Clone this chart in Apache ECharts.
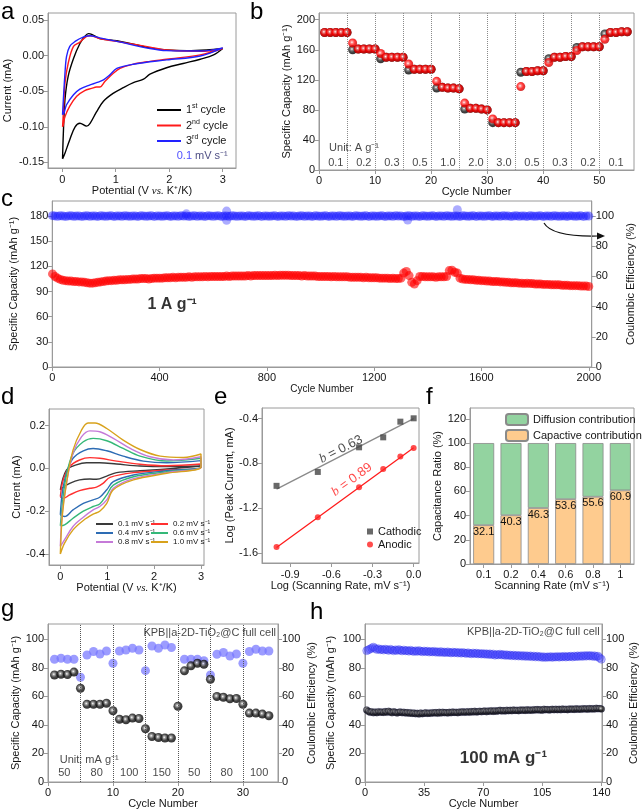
<!DOCTYPE html>
<html><head><meta charset="utf-8">
<script src="https://cdn.jsdelivr.net/npm/echarts@6/dist/echarts.min.js"></script>
<style>html,body{margin:0;padding:0;background:#fff}#c{width:644px;height:812px}</style>
</head><body><div id="c"></div>
<script>
// ---------------- DATA ----------------
// (a) CV curves, first three cycles at 0.1 mV/s  [V, mA]
const aCycle1 = [[0.005,-0.145],[0.02,-0.109],[0.05,-0.062],[0.11,-0.029],[0.21,-0.004],[0.33,0.017],[0.42,0.027],[0.49,0.031],[0.55,0.030],[0.70,0.024],[1.02,0.021],[1.33,0.016],[1.64,0.011],[1.95,0.008],[2.33,0.007],[2.70,0.008],[3.0,0.010],[2.83,0.001],[2.58,-0.005],[2.26,-0.011],[1.95,-0.017],[1.64,-0.026],[1.52,-0.033],[1.33,-0.038],[1.14,-0.045],[0.95,-0.053],[0.77,-0.064],[0.64,-0.079],[0.52,-0.095],[0.455,-0.099],[0.33,-0.095],[0.24,-0.100],[0.14,-0.118],[0.05,-0.137],[0.005,-0.145]];
const aCycle2 = [[0.005,-0.100],[0.02,-0.081],[0.05,-0.039],[0.11,-0.011],[0.21,0.013],[0.33,0.019],[0.455,0.027],[0.52,0.028],[0.70,0.024],[1.02,0.020],[1.33,0.016],[1.64,0.012],[1.95,0.008],[2.58,0.006],[3.0,0.010],[2.58,0.001],[1.95,-0.005],[1.64,-0.008],[1.33,-0.012],[1.08,-0.018],[0.95,-0.025],[0.80,-0.036],[0.70,-0.044],[0.64,-0.044],[0.55,-0.046],[0.42,-0.049],[0.27,-0.057],[0.14,-0.071],[0.05,-0.086],[0.02,-0.097],[0.005,-0.100]];
const aCycle3 = [[0.005,-0.083],[0.02,-0.062],[0.05,-0.025],[0.08,-0.001],[0.14,0.013],[0.24,0.020],[0.39,0.026],[0.52,0.028],[0.70,0.025],[1.02,0.020],[1.64,0.010],[1.95,0.007],[2.58,0.0065],[3.0,0.011],[2.58,-0.0005],[1.95,-0.006],[1.33,-0.012],[1.02,-0.018],[0.89,-0.027],[0.77,-0.034],[0.64,-0.038],[0.52,-0.041],[0.33,-0.047],[0.21,-0.055],[0.08,-0.069],[0.03,-0.081],[0.005,-0.083]];
const aLegendNames = ['1st cycle','2nd cycle','3rd cycle'];

// (b) rate performance
const bCycles = [1,2,3,4,5,6,7,8,9,10,11,12,13,14,15,16,17,18,19,20,21,22,23,24,25,26,27,28,29,30,31,32,33,34,35,36,37,38,39,40,41,42,43,44,45,46,47,48,49,50,51,52,53,54,55];
const bCharge = [183,183,183,183,183, 160,161,161,161,161, 148,150,150,150,150, 133,134,134,134,134, 109,110,109,109,108, 81,82,82,81,80, 63,63,63,63,63, 130,131,131,132,132, 148,150,150,151,151, 163,164,164,164,164, 181,183,183,184,184];
const bDischarge = [183,183,183,183,183, 169,161,161,161,161, 155,150,150,150,150, 141,134,134,134,134, 118,110,109,109,108, 89,82,82,81,80, 68,63,63,63,63, 111,131,131,132,132, 143,150,150,151,151, 159,164,164,164,164, 174,183,183,184,184];
const bDividers = [5,10,15,20,25,30,35,40,45,50];
const bRateLabels = ['0.1','0.2','0.3','0.5','1.0','2.0','3.0','0.5','0.3','0.2','0.1'];
const bRateLabelX = [3,8,13,18,23,28,33,38,43,48,53];

// (c) long cycling at 1 A/g, every 10th cycle
const cStep = 10;
const cCapacity = [
111,108,106,104.5,103.5,103,102.5,102.5,102,102,
101.5,101.5,101,100.5,100,100,100.5,101,101.5,102,
102.5,103,103,103.5,103.5,104,104,104,104.5,104.5,
105,105,105,105.5,105.5,105.5,105,105.5,106,106,
106,106,106.5,106.5,106.5,107,106.5,107,107,107,
107,107.5,107,107.5,107.5,107.5,107.5,108,107.5,108,
108,108,108,108,108,108.5,108,108.5,108.5,108.5,
108.5,108.5,108.5,109,108.5,109,109,109,109,109,
109,109,109,109.5,109,109.5,109.5,109.5,109.5,109,
109,109,109,108.5,109,108.5,108.5,108.5,108.5,108,
108,108,108,108,107.5,108,107.5,107.5,107.5,107.5,
107.5,107,107,107,107,107,106.5,107,106.5,106.5,
106.5,106.5,106,106,106,106,105.5,106,105.5,105.5,
106,112,114,109,101,99,103,108,108,107.5,
107.5,107.5,107.5,107,107.5,107.5,107.5,108,115,115.5,
113,112,106,105,104.5,104.5,104,104,103.5,103.5,
103,103,102.5,102.5,102,102,102,101.5,101.5,101,
101,100.5,100.5,100.5,100,100,99.5,100,99.5,99.5,
99,99,99,98.5,98.5,98.5,98,98,98,98,
97.5,97.5,97.5,97,97,97,97,96.5,96.5,96.5,
96];
const cEfficiency = [
100.3,100.1,99.9,100.2,100,99.8,100.1,100.2,99.9,100,
100.1,99.8,100,100.2,99.9,100.1,100,99.8,100.2,100,
99.9,100.1,100.2,99.8,100,100.1,99.9,100.2,100,99.9,
100.1,100,99.8,100.2,100.1,99.9,100,100.2,99.8,100.1,
100,99.9,100.1,100.2,99.8,100,100.1,99.9,100.2,100,
100.1,99.8,100,100.2,99.9,100.1,100,99.8,100.2,100.1,
99.9,100.1,100.2,99.8,100,100.1,99.9,100.2,100,99.9,
100.1,100,99.8,100.2,100.1,99.9,100,100.2,99.8,100.1,
100,99.9,100.1,100.2,99.8,100,100.1,99.9,100.2,100,
100.1,99.8,100,100.2,99.9,100.1,100,99.8,100.2,100,
99.9,100.1,100.2,99.8,100,100.1,99.9,100.2,100,99.9,
100.1,100,99.8,100.2,100.1,99.9,100,100.2,99.8,100.1,
100,99.9,100.1,100.2,99.8,100,100.1,99.9,100.2,100,
100.1,99.8,100,100.2,99.9,100.1,100,99.8,100.2,100,
99.9,100.1,100.2,99.8,100,100.1,99.9,100.2,100,99.9,
100.1,100,99.8,100.2,100.1,99.9,100,100.2,99.8,100.1,
100,99.9,100.1,100.2,99.8,100,100.1,99.9,100.2,100,
100.1,99.8,100,100.2,99.9,100.1,100,99.8,100.2,100,
99.9,100.1,100.2,99.8,100,100.1,99.9,100.2,100,99.9,
100.1,100,99.8,100.2,100.1,99.9,100,100.2,99.8,100.1,
100];
const cEfficiencyOutliers = [[500,101.5],[650,103.3],[650,97.2],[1325,97.4],[1510,104.2]];

// (d) CV at different scan rates [V, mA]
const dNames = ['0.1 mV s⁻¹','0.2 mV s⁻¹','0.4 mV s⁻¹','0.6 mV s⁻¹','0.8 mV s⁻¹','1.0 mV s⁻¹'];
const d01 = [[0,-0.10],[0.13,-0.008],[0.34,0.016],[0.56,0.026],[0.84,0.026],[1.2,0.02],[1.7,0.011],[2.27,0.008],[3.0,0.011],[3.0,0.008],[2.27,-0.003],[1.7,-0.011],[1.2,-0.02],[0.99,-0.036],[0.77,-0.051],[0.63,-0.05],[0.41,-0.054],[0.2,-0.07],[0.06,-0.088],[0,-0.10]];
const d02 = [[0,-0.132],[0.06,-0.054],[0.2,0.008],[0.41,0.039],[0.63,0.05],[0.84,0.047],[1.2,0.034],[1.7,0.019],[2.27,0.012],[3.0,0.02],[3.0,0.003],[2.27,-0.008],[1.56,-0.02],[1.06,-0.042],[0.91,-0.07],[0.77,-0.088],[0.63,-0.093],[0.41,-0.104],[0.2,-0.124],[0.06,-0.14],[0,-0.132]];
const d04 = [[0,-0.217],[0.04,-0.116],[0.13,-0.023],[0.27,0.047],[0.49,0.082],[0.7,0.093],[0.99,0.082],[1.34,0.057],[1.77,0.034],[2.27,0.026],[3.0,0.036],[3.0,0.008],[2.27,-0.011],[1.56,-0.031],[1.13,-0.062],[0.99,-0.1],[0.84,-0.135],[0.7,-0.147],[0.49,-0.163],[0.27,-0.194],[0.09,-0.225],[0,-0.217]];
const d06 = [[0,-0.268],[0.06,-0.132],[0.13,-0.031],[0.27,0.07],[0.49,0.124],[0.7,0.14],[0.99,0.129],[1.34,0.093],[1.7,0.057],[2.27,0.034],[3.0,0.047],[3.0,0.008],[2.27,-0.016],[1.56,-0.039],[1.13,-0.078],[0.99,-0.124],[0.84,-0.166],[0.7,-0.178],[0.49,-0.2],[0.27,-0.233],[0.09,-0.264],[0,-0.268]];
const d08 = [[0,-0.364],[0.04,-0.209],[0.13,-0.07],[0.27,0.07],[0.45,0.147],[0.63,0.175],[0.84,0.171],[1.13,0.14],[1.49,0.093],[1.91,0.054],[2.41,0.039],[3.0,0.054],[3.0,0.008],[2.27,-0.02],[1.56,-0.048],[1.13,-0.093],[0.99,-0.147],[0.84,-0.178],[0.7,-0.194],[0.49,-0.228],[0.27,-0.271],[0.09,-0.333],[0,-0.364]];
const d10 = [[0,-0.40],[0.04,-0.225],[0.13,-0.07],[0.27,0.085],[0.45,0.178],[0.59,0.212],[0.74,0.212],[0.99,0.186],[1.34,0.132],[1.7,0.088],[2.13,0.057],[2.63,0.051],[3.0,0.067],[3.0,0.008],[2.27,-0.023],[1.56,-0.054],[1.13,-0.1],[0.99,-0.163],[0.84,-0.2],[0.7,-0.214],[0.49,-0.243],[0.27,-0.287],[0.09,-0.349],[0,-0.40]];
const dCurves = [d01,d02,d04,d06,d08,d10];
const dColors = ['#3a3a3a','#ff3030','#2d6cb4','#35b878','#c57ad8','#d8a21c'];

// (e) log peak current vs log scan rate
const eLogRate = [-1, -0.699, -0.398, -0.222, -0.097, 0];
const eCathodic = [-1.0, -0.876, -0.656, -0.567, -0.427, -0.397];
const eAnodic = [-1.546, -1.281, -1.013, -0.85, -0.739, -0.662];
const eFitCathodic = [[-1,-1.03],[0,-0.40]];
const eFitAnodic = [[-1,-1.55],[0,-0.66]];

// (f) capacitive / diffusion contributions
const fRates = ['0.1','0.2','0.4','0.6','0.8','1'];
const fCapacitive = [32.1, 40.3, 46.3, 53.6, 55.6, 60.9];
const fDiffusion = [67.9, 59.7, 53.7, 46.4, 44.4, 39.1];

// (g) full-cell rate performance
const gCapacity = [75,75.5,75.3,77, 65.7, 54.5,54.5,54.5,55.2, 49.9, 44,43.6,44.8,44.5, 37.3, 31.9,31.2,30.8,30.8, 53.1, 77.9,81.4,83.2,82.5, 72, 59.9,59.4,58.3,58.5, 54.5, 48.3,48.3,47.6,46.4];
const gEfficiency = [86,86.7,86,86,73.4, 89,91.4,89.7,91.8, 83.2, 91.8,92.5,93.7,92.5, 78, 95.3,93.7,96,94.2, '-', 86,86,86,85, 75, 89.5,90.7,88.3,89.7, 83.2, 91.4,93,91.8,91.8];
const gDividers = [5,10,15,20,25,30];
const gRateLabels = ['50','80','100','150','50','80','100'];
const gRateLabelX = [2.5,7.5,12.5,17.5,22.5,27.5,32.5];

// (h) full-cell cycling at 100 mA/g
const hCapacity = [
50.5,49.5,48.8,49.2,48.5,49.0,48.6,49.3,48.9,49.1,
48.7,49.4,48.8,49.6,49.0,48.5,49.2,48.9,48.4,48.8,
49.1,48.6,48.9,48.3,48.7,48.2,48.6,48.0,48.4,47.8,
48.1,47.7,48.3,47.9,48.2,48.5,48.0,48.4,48.1,48.6,
48.3,48.7,48.2,48.8,48.4,48.9,48.5,48.7,48.3,48.8,
48.6,49.0,48.7,48.9,48.5,49.1,48.8,49.2,48.9,49.0,
49.3,48.9,49.4,49.1,49.5,49.0,49.3,49.6,49.2,49.5,
49.7,49.3,49.8,49.5,49.9,49.4,50.0,49.6,49.9,50.2,
49.8,50.1,49.7,50.3,49.9,50.2,50.0,50.4,50.1,50.3,
50.0,50.5,50.2,50.4,50.1,50.6,50.3,50.5,50.2,50.7,
50.4,50.8,50.5,50.6,50.3,50.9,50.6,50.8,50.5,50.7,
50.9,50.6,51.0,50.7,50.9,50.6,51.1,50.8,51.0,50.7,
51.2,50.9,51.1,50.8,51.3,51.0,51.2,50.9,51.4,51.1,
51.3,51.0,51.5,51.2,51.4,51.1,51.6,51.3,51.5,51.2];
const hEfficiency = [
92.0,92.6,93.1,93.8,94.5,93.6,92.8,93.4,92.6,93.0,
92.4,93.1,92.7,92.2,93.0,92.5,91.9,92.6,92.1,92.8,
92.3,91.8,92.5,91.9,92.2,91.6,92.3,91.8,91.4,92.0,
91.5,92.1,91.6,91.2,91.8,91.3,91.7,91.0,91.5,91.1,
91.6,90.9,91.3,90.8,91.4,90.7,91.1,90.6,91.2,90.8,
90.4,91.0,90.5,90.9,90.3,90.8,90.2,90.7,90.4,90.0,
90.6,90.1,89.8,90.4,89.9,90.3,89.7,90.1,89.6,90.0,
89.5,89.9,89.3,89.8,89.2,89.7,88.8,89.4,89.0,89.6,
88.9,89.3,88.7,89.2,88.6,89.0,88.4,88.9,88.3,88.8,
88.2,88.7,88.1,88.6,88.0,88.5,87.9,88.4,87.7,88.3,
87.6,88.2,87.5,88.0,87.3,87.8,87.2,87.7,87.4,87.9,
87.3,87.8,87.5,88.0,87.4,87.9,87.6,88.1,87.5,88.0,
87.7,88.2,87.6,88.3,87.8,88.4,87.9,88.5,88.0,88.6,
88.1,88.7,88.2,88.6,88.0,88.5,87.8,88.2,87.0,86.0];

const cellLabel = 'KPB||a-2D-TiO₂@C full cell';

// ---------------- STYLE ----------------
const FONT = '"Liberation Sans", Arial, Helvetica, sans-serif';
const SERIF = '"Liberation Serif", "Times New Roman", serif';
const TXT = '#151515';
const AXC = '#9a9a9a';
const RICH = {
  sup: {fontSize: 7, verticalAlign: 'top', lineHeight: 14},
  it: {fontStyle: 'italic', fontFamily: SERIF}
};

function sphere(c0, c1, c2) {
  return new echarts.graphic.RadialGradient(0.42, 0.42, 0.62, [
    {offset: 0, color: '#ffffff'}, {offset: 0.22, color: c0}, {offset: 0.55, color: c1}, {offset: 1, color: c2}]);
}

function vAxis(gi, min, max, ticks, fmt, name, gap, extra) {
  const a = {
    type: 'value', gridIndex: gi, min: min, max: max,
    axisLine: {show: true, onZero: false, lineStyle: {color: AXC, width: 1}},
    axisTick: {show: true, length: 4, lineStyle: {color: AXC}, customValues: ticks},
    axisLabel: {show: true, color: TXT, fontSize: 11, fontFamily: FONT, margin: 4, customValues: ticks, formatter: fmt},
    splitLine: {show: false},
    name: name, nameLocation: 'middle', nameGap: gap,
    nameTextStyle: {color: TXT, fontSize: 11, fontFamily: FONT, rich: RICH}
  };
  if (extra) Object.keys(extra).forEach(k => {
    if (typeof extra[k] === 'object' && a[k] && !Array.isArray(extra[k])) a[k] = Object.assign({}, a[k], extra[k]);
    else a[k] = extra[k];
  });
  return a;
}
const f0 = v => String(Math.round(v));
const f1 = v => v.toFixed(1);
const f2 = v => v.toFixed(2);

function texts(xi, yi, items) {
  return {
    type: 'scatter', xAxisIndex: xi, yAxisIndex: yi, silent: true, z: 20, symbolSize: 1,
    itemStyle: {color: 'rgba(0,0,0,0)'},
    label: {show: true, position: 'inside', color: TXT, fontFamily: FONT, fontSize: 11, rich: RICH},
    data: items.map(it => ({value: [it[0], it[1]], label: Object.assign({formatter: it[2]}, it[3] || {})}))
  };
}
function dividers(xi, yi, xs, color) {
  return {
    type: 'scatter', xAxisIndex: xi, yAxisIndex: yi, data: [], silent: true, z: 1,
    markLine: {silent: true, symbol: ['none', 'none'], label: {show: false}, animation: false,
      lineStyle: {type: 'dotted', color: color, width: 1}, emphasis: {disabled: true},
      data: xs.map(v => ({xAxis: v}))}
  };
}

// ---------------- LAYOUT ----------------
const grids = [
  {left: 48, top: 13, width: 188, height: 155},
  {left: 319, top: 13, width: 315, height: 157},
  {left: 49, top: 201, width: 558, height: 166},
  {left: 49, top: 409, width: 155, height: 156},
  {left: 262, top: 408, width: 157, height: 155},
  {left: 470, top: 408, width: 164, height: 156},
  {left: 48, top: 624, width: 230, height: 158},
  {left: 365, top: 624, width: 237, height: 158}
].map(g => Object.assign({show: true, borderColor: AXC, borderWidth: 1, backgroundColor: 'transparent'}, g));

const xAxes = [
  vAxis(0, -0.267, 3.249, [0,1,2,3], f0, 'Potential (V {it|vs.} K⁺/K)', 17, {axisLabel: {margin: 6}}),
  vAxis(1, 0, 56.2, [0,10,20,30,40,50], f0, 'Cycle Number', 15, {axisLabel: {margin: 5}}),
  vAxis(2, 0, 2011, [0,400,800,1200,1600,2000], f0, 'Cycle Number', 17,
        {axisLabel: {margin: 5}, nameTextStyle: {fontFamily: '"Liberation Sans Narrow", ' + FONT, fontSize: 10}}),
  vAxis(3, -0.242, 3.064, [0,1,2,3], f0, 'Potential (V {it|vs.} K⁺/K)', 16, {axisLabel: {margin: 6}}),
  vAxis(4, -1.106, 0.039, [-0.9,-0.6,-0.3,0], f1, 'Log (Scanning Rate, mV s⁻¹)', 15, {axisLabel: {margin: 6}}),
  {type: 'category', gridIndex: 5, data: fRates,
   axisLine: {show: true, lineStyle: {color: AXC}}, axisTick: {show: true, alignWithLabel: true, length: 4, lineStyle: {color: AXC}},
   axisLabel: {color: TXT, fontSize: 11, fontFamily: FONT, margin: 5}, splitLine: {show: false},
   name: 'Scanning Rate (mV s⁻¹)', nameLocation: 'middle', nameGap: 15,
   nameTextStyle: {color: TXT, fontSize: 11, fontFamily: FONT}},
  vAxis(6, 0, 35.4, [0,10,20,30], f0, 'Cycle Number', 14, {axisLabel: {margin: 5}}),
  vAxis(7, 0, 140.4, [0,35,70,105,140], f0, 'Cycle Number', 14, {axisLabel: {margin: 5}})
];
const yAxes = [
  vAxis(0, -0.1578, 0.0599, [-0.15,-0.1,-0.05,0,0.05], f2, 'Current (mA)', 35),
  vAxis(1, 0, 208.9, [0,40,80,120,160,200], f0, 'Specific Capacity (mAh g⁻¹)', 27),
  vAxis(2, 0, 198, [0,30,60,90,120,150,180], f0, 'Specific Capacity (mAh g⁻¹)', 25),
  vAxis(2, 0, 110, [0,20,40,60,80,100], f0, 'Coulombic Efficiency (%)', 25, {position: 'right', nameRotate: 90}),
  vAxis(3, -0.451, 0.277, [-0.4,-0.2,0,0.2], f1, 'Current (mA)', 26),
  vAxis(4, -1.689, -0.305, [-1.6,-1.2,-0.8,-0.4], f1, 'Log (Peak Current, mA)', 24),
  vAxis(5, 0, 129, [0,20,40,60,80,100,120], f0, 'Capacitance Ratio (%)', 21),
  vAxis(6, 0, 110.7, [0,20,40,60,80,100], f0, 'Specific Capacity (mAh g⁻¹)', 24),
  vAxis(6, 0, 110.7, [0,20,40,60,80,100], f0, 'Coulombic Efficiency (%)', 28, {position: 'right', nameRotate: 90}),
  vAxis(7, 0, 110.7, [0,20,40,60,80,100], f0, 'Specific Capacity (mAh g⁻¹)', 29),
  vAxis(7, 0, 110.7, [0,20,40,60,80,100], f0, 'Coulombic Efficiency (%)', 26, {position: 'right', nameRotate: 90})
];

// ---------------- SERIES ----------------
const series = [];
// (a)
[[aCycle1,'#000000'],[aCycle2,'#ff1a1a'],[aCycle3,'#2222ff']].forEach((s, i) => {
  series.push({type: 'line', name: aLegendNames[i], xAxisIndex: 0, yAxisIndex: 0, data: s[0], smooth: 0.35,
    symbol: 'none', lineStyle: {color: s[1], width: 1.4}, itemStyle: {color: s[1]}, z: 3 + i});
});
series.push(texts(0, 0, [[2.14, -0.141, '{blue|0.1} mV s⁻¹', {align: 'left', rich: Object.assign({blue: {color: '#2222ff'}}, RICH), color: '#1b1b60'}]]));

// (b)
series.push(dividers(1, 1, bDividers, '#8a8a8a'));
series.push({type: 'scatter', name: 'Charge', xAxisIndex: 1, yAxisIndex: 1, z: 3, symbolSize: 9,
  data: bCycles.map((c, i) => [c, bCharge[i]]), itemStyle: {color: sphere('#777777', '#1a1a1a', '#000000')}});
series.push({type: 'scatter', name: 'Discharge', xAxisIndex: 1, yAxisIndex: 1, z: 4, symbolSize: 9,
  data: bCycles.map((c, i) => [c, bDischarge[i]]), itemStyle: {color: sphere('#ff7070', '#ff0000', '#c00000')}});
series.push(texts(1, 1, bRateLabels.map((t, i) => [bRateLabelX[i], 9.3, t, {align: 'center'}])
  .concat([[1.8, 29.5, 'Unit: A g⁻¹', {align: 'left'}]])));

// (c)
series.push({type: 'scatter', name: 'Capacity', xAxisIndex: 2, yAxisIndex: 2, z: 3, symbolSize: 9,
  data: cCapacity.map((v, i) => [Math.max(1, i * cStep), v]), itemStyle: {color: 'rgba(255,0,0,0.75)'}});
series.push({type: 'scatter', name: 'CE', xAxisIndex: 2, yAxisIndex: 3, z: 3, symbolSize: 9,
  data: cEfficiency.map((v, i) => [Math.max(1, i * cStep), v]), itemStyle: {color: 'rgba(25,25,255,0.6)'}});
series.push({type: 'scatter', name: 'CE2', xAxisIndex: 2, yAxisIndex: 3, z: 3, symbolSize: 9,
  data: cEfficiencyOutliers, itemStyle: {color: 'rgba(25,25,255,0.45)'}});
series.push(texts(2, 2, [[447, 74, '1 A g⁻¹', {align: 'center', fontSize: 16, fontWeight: 'bold', color: '#000'}]]));

// (d)
dCurves.forEach((d, i) => {
  series.push({type: 'line', name: dNames[i], xAxisIndex: 3, yAxisIndex: 4, data: d, smooth: 0.35,
    symbol: 'none', lineStyle: {color: dColors[i], width: 1.4}, itemStyle: {color: dColors[i]}, z: 3 + i});
});

// (e)
series.push({type: 'line', name: 'fitC', xAxisIndex: 4, yAxisIndex: 5, data: eFitCathodic, symbol: 'none',
  lineStyle: {color: '#8a8a8a', width: 1.3}, z: 2});
series.push({type: 'line', name: 'fitA', xAxisIndex: 4, yAxisIndex: 5, data: eFitAnodic, symbol: 'none',
  lineStyle: {color: '#ff1a1a', width: 1.3}, z: 2});
series.push({type: 'scatter', name: 'Cathodic', xAxisIndex: 4, yAxisIndex: 5, symbol: 'rect', symbolSize: 6, z: 3,
  data: eLogRate.map((x, i) => [x, eCathodic[i]]), itemStyle: {color: '#444444'}});
series.push({type: 'scatter', name: 'Anodic', xAxisIndex: 4, yAxisIndex: 5, symbol: 'circle', symbolSize: 6, z: 3,
  data: eLogRate.map((x, i) => [x, eAnodic[i]]), itemStyle: {color: '#ff2020'}});
series.push(texts(4, 5, [
  [-0.53, -0.675, '{it|b} = 0.63', {align: 'center', rotate: 27, fontSize: 13, color: '#222'}],
  [-0.45, -0.945, '{it|b} = 0.89', {align: 'center', rotate: 36, fontSize: 13, color: '#ff1a1a'}]
]));

// (f)
series.push({type: 'bar', name: 'Capactive contribution', xAxisIndex: 5, yAxisIndex: 6, stack: 'r', barWidth: 21,
  data: fCapacitive, itemStyle: {color: '#fecb8e', borderColor: '#8a8a8a', borderWidth: 0.8},
  label: {show: true, position: 'insideTop', distance: 1, color: '#111', fontSize: 11, fontFamily: FONT,
    formatter: p => Number(p.value).toFixed(1)}});
series.push({type: 'bar', name: 'Diffusion contribution', xAxisIndex: 5, yAxisIndex: 6, stack: 'r', barWidth: 21,
  data: fDiffusion, itemStyle: {color: '#93d3a0', borderColor: '#8a8a8a', borderWidth: 0.8}});

// (g)
series.push(dividers(6, 7, gDividers, '#555555'));
series.push({type: 'scatter', name: 'gCE', xAxisIndex: 6, yAxisIndex: 8, z: 3, symbolSize: 9,
  data: gEfficiency.map((v, i) => [i + 1, v]), itemStyle: {color: 'rgba(118,118,255,0.9)'}});
series.push({type: 'scatter', name: 'gCap', xAxisIndex: 6, yAxisIndex: 7, z: 4, symbolSize: 9,
  data: gCapacity.map((v, i) => [i + 1, v]), itemStyle: {color: sphere('#8a8a8a', '#1a1a1a', '#000000')}});
series.push(texts(6, 7, gRateLabels.map((t, i) => [gRateLabelX[i], 6.3, t, {align: 'center'}])
  .concat([[1.8, 15.6, 'Unit: mA g⁻¹', {align: 'left'}], [35.1, 104.4, cellLabel, {align: 'right'}]])));

// (h)
series.push({type: 'scatter', name: 'hCE', xAxisIndex: 7, yAxisIndex: 10, z: 3, symbolSize: 8,
  data: hEfficiency.map((v, i) => [i + 1, v]), itemStyle: {color: 'rgba(60,60,255,0.42)', borderColor: 'rgba(40,40,230,0.55)', borderWidth: 0.7}});
series.push({type: 'scatter', name: 'hCap', xAxisIndex: 7, yAxisIndex: 9, z: 4, symbolSize: 7,
  data: hCapacity.map((v, i) => [i + 1, v]), itemStyle: {color: sphere('#8a8a8a', '#1a1a1a', '#000000'), borderColor: 'rgba(70,70,150,0.35)', borderWidth: 0.6}});
series.push(texts(7, 9, [[139, 104.9, cellLabel, {align: 'right'}],
  [82, 16.8, '100 mA g⁻¹', {align: 'center', fontSize: 17, fontWeight: 'bold', color: '#000'}]]));

// ---------------- LEGENDS ----------------
const legends = [
  {data: aLegendNames, left: 157, top: 103, orient: 'vertical', icon: 'rect', itemWidth: 24, itemHeight: 2, itemGap: 3, padding: 0,
   formatter: n => n.replace(/^(\d)(st|nd|rd)/, '$1{sup|$2}'),
   textStyle: {fontSize: 11, fontFamily: FONT, color: TXT, rich: RICH}},
  {data: [dNames[0], dNames[2], dNames[4]], left: 96, top: 520, orient: 'vertical', icon: 'rect', itemWidth: 17, itemHeight: 2, itemGap: 1, padding: 0,
   textStyle: {fontSize: 8, fontFamily: FONT, color: TXT}},
  {data: [dNames[1], dNames[3], dNames[5]], left: 151, top: 520, orient: 'vertical', icon: 'rect', itemWidth: 17, itemHeight: 2, itemGap: 1, padding: 0,
   textStyle: {fontSize: 8, fontFamily: FONT, color: TXT}},
  {data: ['Cathodic', 'Anodic'], left: 367, top: 526, orient: 'vertical', itemWidth: 6, itemHeight: 6, itemGap: 2, padding: 0,
   textStyle: {fontSize: 11, fontFamily: FONT, color: TXT}},
  {data: ['Diffusion contribution', 'Capactive contribution'], left: 505, top: 413, orient: 'vertical', itemWidth: 22, itemHeight: 11, itemGap: 3, padding: 0,
   textStyle: {fontSize: 11, fontFamily: FONT, color: TXT}}
];

// ---------------- GRAPHIC (panel letters, arrow) ----------------
const panelLetters = [['a',1,0],['b',250,0],['c',1,187],['d',1,385],['e',214,385],['f',426,385],['g',1,597],['h',310,600]];
const graphic = panelLetters.map(p => ({type: 'text', x: p[1], y: p[2], silent: true,
  style: {text: p[0], fontSize: 24, fontFamily: FONT, fill: '#000'}}));
graphic.push({type: 'bezierCurve', silent: true, shape: {x1: 544, y1: 223, cpx1: 552, cpy1: 237, x2: 598, y2: 236},
  style: {stroke: '#111', lineWidth: 1.2, fill: null}});
graphic.push({type: 'polygon', silent: true, shape: {points: [[605, 236], [597, 232.5], [597, 239.5]]}, style: {fill: '#111'}});

const chart = echarts.init(document.getElementById('c'), null, {renderer: 'canvas'});
chart.setOption({
  animation: false,
  backgroundColor: '#ffffff',
  textStyle: {fontFamily: FONT},
  grid: grids,
  xAxis: xAxes,
  yAxis: yAxes,
  legend: legends,
  series: series,
  graphic: graphic
});
</script></body></html>
